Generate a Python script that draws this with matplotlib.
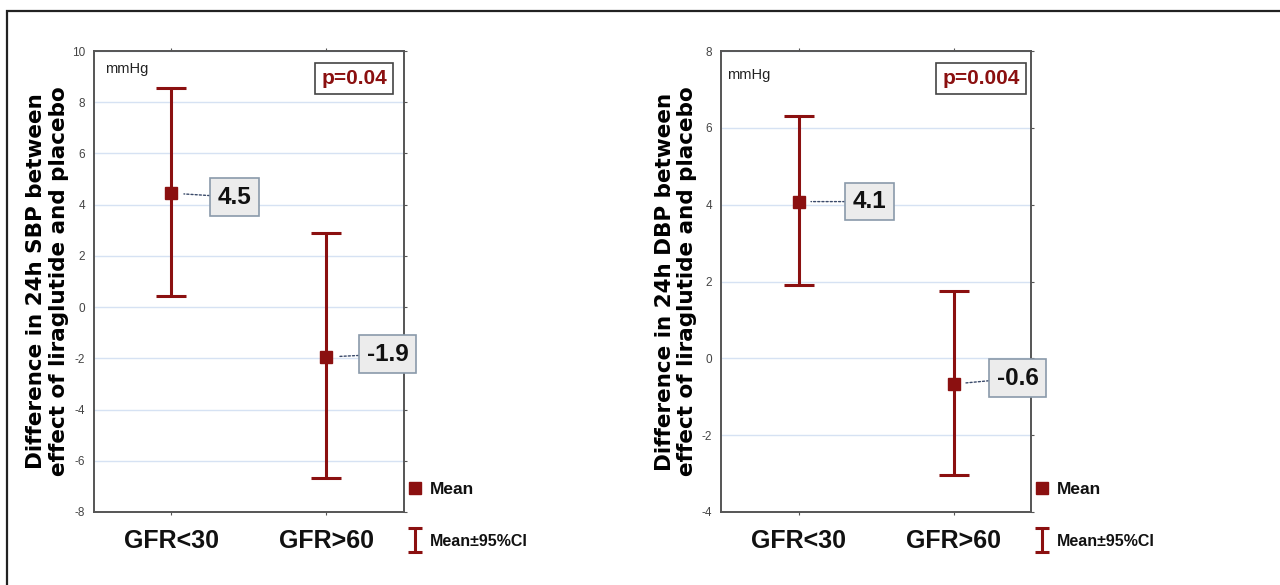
import matplotlib
matplotlib.use("Agg")
import matplotlib.pyplot as plt
from matplotlib.lines import Line2D
from matplotlib.patches import Rectangle
from matplotlib.container import ErrorbarContainer
from matplotlib.legend_handler import HandlerErrorbar

plt.rcParams['font.family'] = ['Liberation Sans', 'DejaVu Sans']
plt.rcParams['axes.unicode_minus'] = False

# data
groups = ['GFR<30', 'GFR>60']

sbp_mean = [4.45, -1.95]
sbp_low = [0.42, -6.68]
sbp_high = [8.55, 2.90]
sbp_labels = ['4.5', '-1.9']
sbp_p = 'p=0.04'

dbp_mean = [4.08, -0.67]
dbp_low = [1.90, -3.03]
dbp_high = [6.32, 1.76]
dbp_labels = ['4.1', '-0.6']
dbp_p = 'p=0.004'

red = '#8b1010'

fig = plt.figure(figsize=(12.8, 5.85), dpi=100)
ax1 = fig.add_axes([0.0734, 0.1248, 0.2422, 0.788])
ax2 = fig.add_axes([0.5633, 0.1248, 0.2422, 0.788])

# outer frame (only left + top edges show)
fig.add_artist(Rectangle((7 / 1280, -0.2), 1.2, 1.2 - 10.5 / 585,
                         transform=fig.transFigure, fill=False,
                         edgecolor='#222222', lw=1.6))


def small_caps(h, orig):
    # copy style, then shrink the cap width in the legend key only
    h.update_from(orig)
    if isinstance(h, Line2D):
        h.set_markersize(10)


def panel(ax, mean, low, high, labels, ptxt, ylim, ylabel, offsets, ylab_x, mm_pos):
    x = list(range(len(groups)))
    yerr = [[m - l for m, l in zip(mean, low)], [h - m for m, h in zip(mean, high)]]
    eb = ax.errorbar(x, mean, yerr=yerr, fmt='none', ecolor=red, elinewidth=2.2,
                     capsize=10.8, capthick=2.2, zorder=3)
    mk, = ax.plot(x, mean, 's', color=red, markersize=8.6, zorder=4)
    ax.set_xlim(-0.5, 1.5)
    ax.set_ylim(*ylim)
    ax.set_yticks(range(ylim[0], ylim[1] + 1, 2))
    ax.set_xticks(x)
    ax.set_xticklabels(groups, fontsize=18, fontweight='bold', color='#111111')
    ax.grid(axis='y', color='#d6e2f3', lw=1.0)
    ax.set_axisbelow(True)
    for s in ax.spines.values():
        s.set_color('#555555')
        s.set_linewidth(1.4)
    ax.tick_params(axis='y', left=False, right=True, direction='out', length=2.5,
                   labelsize=8.5, labelcolor='#444444', pad=4, color='#555555')
    ax.tick_params(axis='x', top=True, bottom=True, direction='out', length=2.5,
                   pad=10, color='#555555')
    ax.set_ylabel(ylabel, fontsize=15.5, fontweight='bold', family='DejaVu Sans',
                  va='center', linespacing=1.15)
    ax.yaxis.set_label_coords(ylab_x, 0.5)

    # value boxes with dotted leader lines
    for xi, yi, lab, off in zip(x, mean, labels, offsets):
        ax.annotate(lab, (xi, yi), xytext=off, textcoords='offset pixels',
                    ha='center', va='center', fontsize=17.5, fontweight='bold',
                    color='#111111',
                    bbox=dict(boxstyle='square,pad=0.3', fc='#ececec', ec='#8a9aaa', lw=1.2),
                    arrowprops=dict(arrowstyle='-', ls=(0, (1.5, 1.5)), color='#3a4a6a',
                                    lw=1.0, shrinkA=0, shrinkB=9),
                    zorder=5)

    ax.text(0.84, 0.94, ptxt, transform=ax.transAxes, ha='center', va='center',
            fontsize=15, fontweight='bold', color=red,
            bbox=dict(boxstyle='square,pad=0.3', fc='white', ec='#444444', lw=1.2))
    ax.text(mm_pos[0], mm_pos[1], 'mmHg', transform=ax.transAxes, ha='left', va='center',
            fontsize=10.5, color='#222222')

    leg = ax.legend([mk, eb], ['Mean', 'Mean±95%CI'], loc='center left',
                    bbox_to_anchor=(1.01, -0.008), frameon=False,
                    prop={'weight': 'bold', 'size': 12.5}, labelspacing=2.1,
                    handlelength=0.9, handletextpad=0.4, borderpad=0, borderaxespad=0,
                    handler_map={ErrorbarContainer: HandlerErrorbar(
                        xerr_size=0.6, yerr_size=0.7, update_func=small_caps)})
    for t in leg.get_texts():
        t.set_color('#111111')
    leg.get_texts()[1].set_fontsize(11.5)


panel(ax1, sbp_mean, sbp_low, sbp_high, sbp_labels, sbp_p, (-8, 10),
      'Difference in 24h SBP between\neffect of liraglutide and placebo',
      [(63, -4), (61, 3)], -0.15, (0.035, 0.961))
panel(ax2, dbp_mean, dbp_low, dbp_high, dbp_labels, dbp_p, (-4, 8),
      'Difference in 24h DBP between\neffect of liraglutide and placebo',
      [(71, 0), (64, 6)], -0.145, (0.019, 0.948))

fig.savefig('out.png', dpi=100)
